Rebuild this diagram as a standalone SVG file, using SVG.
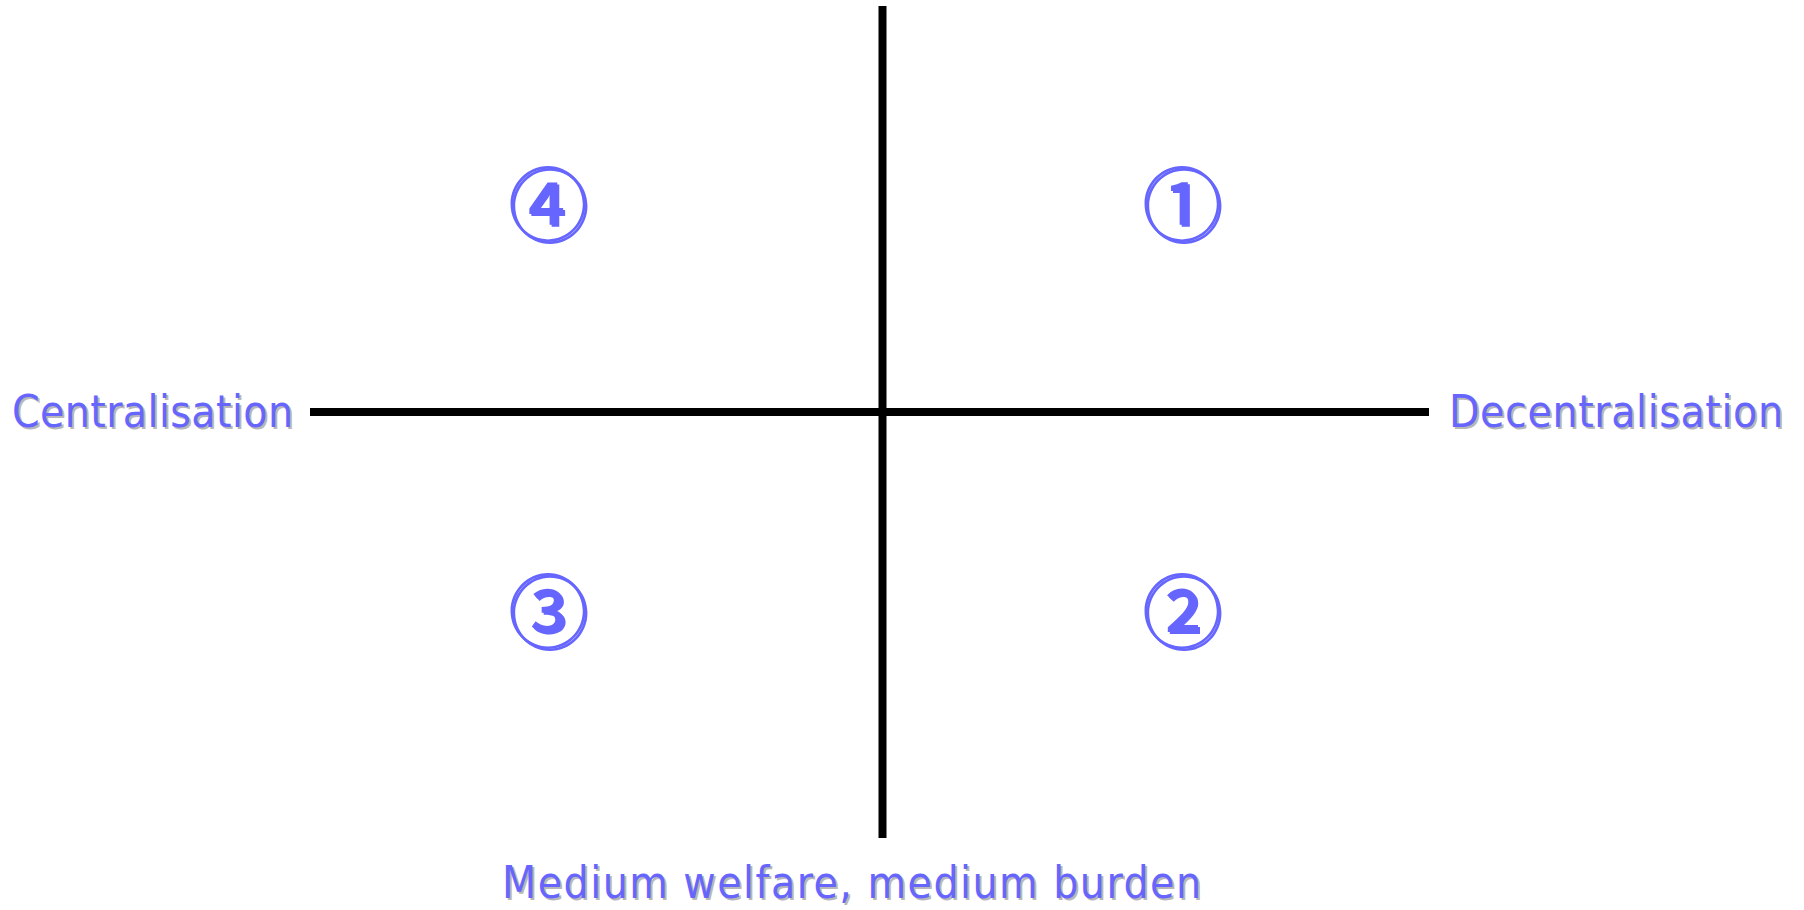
<svg xmlns="http://www.w3.org/2000/svg" width="1804" height="910" viewBox="0 0 1804 910">
<defs>
<style>
.lbl{font-family:"DejaVu Sans Condensed","DejaVu Sans",sans-serif;font-size:44px;fill:#6666FF}
.sh{fill:#B8B8B8}
.num{font-family:"Noto Sans CJK JP",sans-serif;font-size:80px;font-weight:500;fill:#6666FF;text-anchor:middle}
.ax{stroke:#000;stroke-width:8;fill:none}
</style>
</defs>
<rect width="1804" height="910" fill="#fff"/>
<g id="connectors">
<line class="ax" x1="882.5" y1="6" x2="882.5" y2="838"/>
<line class="ax" x1="310" y1="412" x2="1429" y2="412"/>
</g>
<g id="centralisation">
<text class="lbl sh" x="14" y="429" textLength="281">Centralisation</text>
<text class="lbl" x="12" y="427" textLength="281">Centralisation</text>
</g>
<g id="decentralisation">
<text class="lbl sh" x="1451" y="429" textLength="334">Decentralisation</text>
<text class="lbl" x="1449" y="427" textLength="334">Decentralisation</text>
</g>
<g id="medium">
<text class="lbl sh" x="504" y="900" textLength="699">Medium welfare, medium burden</text>
<text class="lbl" x="502" y="898" textLength="699">Medium welfare, medium burden</text>
</g>
<g id="q4">
<text class="num sh" x="550" y="236">④</text>
<text class="num" x="548" y="234">④</text>
</g>
<g id="q1">
<text class="num sh" x="1184" y="236">①</text>
<text class="num" x="1182" y="234">①</text>
</g>
<g id="q3">
<text class="num sh" x="550" y="643">③</text>
<text class="num" x="548" y="641">③</text>
</g>
<g id="q2">
<text class="num sh" x="1184" y="643">②</text>
<text class="num" x="1182" y="641">②</text>
</g>
</svg>
